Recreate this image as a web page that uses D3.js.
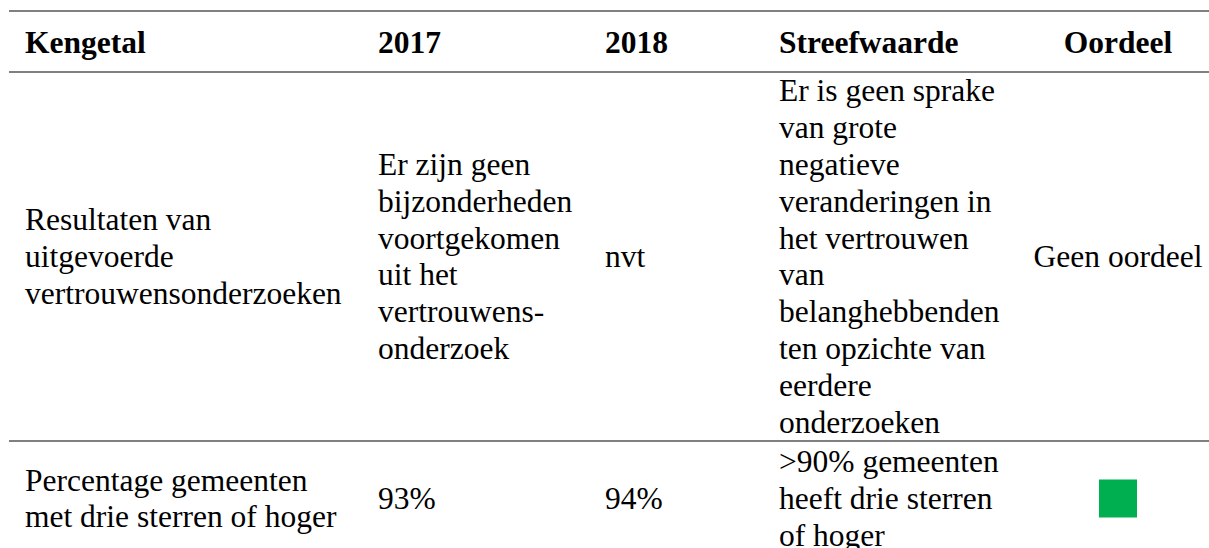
<!DOCTYPE html>
<html>
<head>
<meta charset="utf-8">
<script src="https://cdn.jsdelivr.net/npm/d3@7"></script>
<style>
    html, body { margin: 0; padding: 0; background: #fff; }
    svg { display: block; }
    .rule { stroke: #808080; stroke-width: 2; }
    .cell { font-family: 'Liberation Serif', Tinos, 'Times New Roman', Times, 'DejaVu Serif', serif; font-size: 31.5px; fill: #000; }
    .head { font-weight: bold; }
</style>
</head>
<body>
<svg class="canvas"></svg>
<script>
// table content
var columns = ['Kengetal', '2017', '2018', 'Streefwaarde', 'Oordeel'];
var kengetallen = [
    'Resultaten van\nuitgevoerde\nvertrouwensonderzoeken',
    'Percentage gemeenten\nmet drie sterren of hoger'
];
var waarden2017 = [
    'Er zijn geen\nbijzonderheden\nvoortgekomen\nuit het\nvertrouwens-\nonderzoek',
    '93%'
];
var waarden2018 = ['nvt', '94%'];
var streefwaarden = [
    'Er is geen sprake\nvan grote\nnegatieve\nveranderingen in\nhet vertrouwen\nvan\nbelanghebbenden\nten opzichte van\neerdere\nonderzoeken',
    '>90% gemeenten\nheeft drie sterren\nof hoger'
];
var oordelen = ['Geen oordeel', 'groen'];

var width = 1209, height = 548;
var lineHeight = 36.8;

var svg = d3.select('.canvas')
    .attr('width', width)
    .attr('height', height);

// column anchors: first four left aligned, last one centred
var x = d3.scaleOrdinal()
    .domain(columns)
    .range([25, 378, 605, 779, 1118]);

var rows = kengetallen.map(function(k, i){
    return {
        'Kengetal': k,
        '2017': waarden2017[i],
        '2018': waarden2018[i],
        'Streefwaarde': streefwaarden[i],
        'Oordeel': oordelen[i]
    };
});

// row borders (top of header, bottom of header, then each row)
var borders = [11, 72, 441, 556];
var rowCenter = function(i){ return (borders[i + 1] + borders[i + 2]) / 2; };

svg.selectAll('line.rule')
    .data(borders.slice(0, 3))
    .enter().append('line')
    .classed('rule', true)
    .attr('x1', 9)
    .attr('x2', width)
    .attr('y1', function(d){ return d; })
    .attr('y2', function(d){ return d; });

// header
svg.selectAll('text.head')
    .data(columns)
    .enter().append('text')
    .classed('cell head', true)
    .attr('x', function(d){ return x(d); })
    .attr('y', 53)
    .attr('text-anchor', function(d){ return d === 'Oordeel' ? 'middle' : 'start'; })
    .text(function(d){ return d; });

// body cells, vertically centred in their row
rows.forEach(function(row, i){
    var g = svg.append('g').classed('row', true);
    var base = rowCenter(i) + 10.5;

    columns.forEach(function(col){
        var value = row[col];
        if(col === 'Oordeel' && value === 'groen'){
            g.append('rect')
                .attr('x', x(col) - 19)
                .attr('y', rowCenter(i) - 19)
                .attr('width', 38)
                .attr('height', 38)
                .attr('fill', '#00b050');
            return;
        }
        var lines = value.split('\n');
        var first = base - (lines.length - 1) / 2 * lineHeight;
        g.append('text')
            .classed('cell', true)
            .attr('text-anchor', col === 'Oordeel' ? 'middle' : 'start')
            .selectAll('tspan')
            .data(lines)
            .enter().append('tspan')
            .attr('x', x(col))
            .attr('y', function(d, j){ return first + j * lineHeight; })
            .text(function(d){ return d; });
    });
});
</script>
</body>
</html>
